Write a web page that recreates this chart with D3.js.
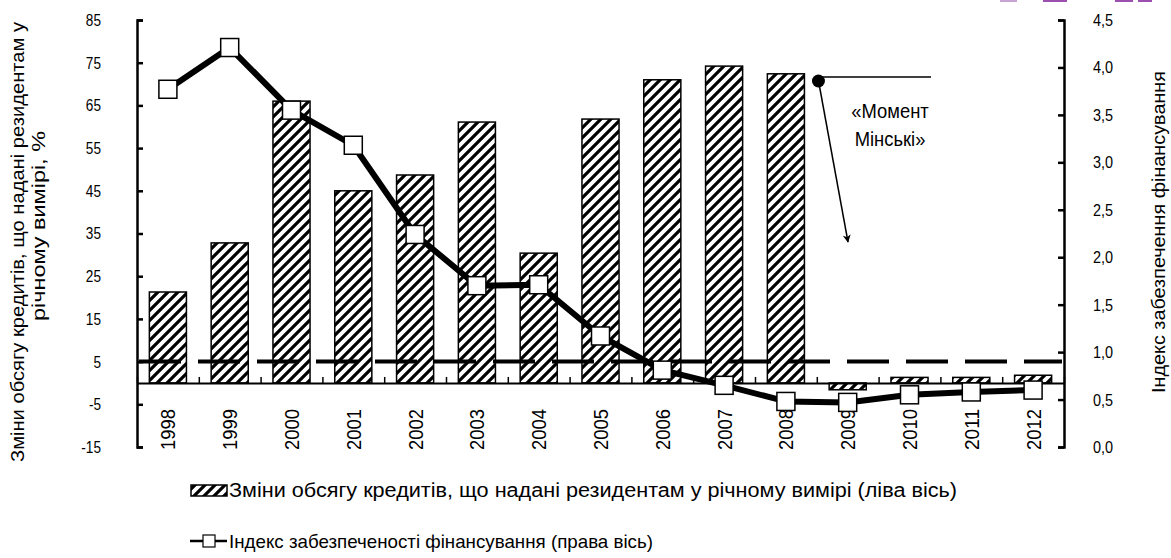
<!DOCTYPE html>
<html>
<head>
<meta charset="utf-8">
<script src="https://cdn.jsdelivr.net/npm/d3@7"></script>
<style>
  body { margin: 0; background: #fff; }
  svg text { font-family: "Liberation Sans", Arial, sans-serif; fill: #000; }
</style>
</head>
<body>
<svg id="chart" width="1171" height="558"></svg>
<script>
// data
const years = ["1998","1999","2000","2001","2002","2003","2004","2005","2006","2007","2008","2009","2010","2011","2012"];
const creditChange = [21.3, 32.8, 66.0, 45.0, 48.7, 61.1, 30.4, 61.8, 71.0, 74.2, 72.4, -1.6, 1.3, 1.3, 1.8];
const fundingIndex = [3.77, 4.21, 3.55, 3.18, 2.24, 1.70, 1.71, 1.17, 0.81, 0.65, 0.48, 0.47, 0.55, 0.58, 0.60];
const leftTicks = [-15, -5, 5, 15, 25, 35, 45, 55, 65, 75, 85];
const rightTicks = [0, 0.5, 1, 1.5, 2, 2.5, 3, 3.5, 4, 4.5];
const thresholdLeft = 5;
const annotLines = ["«Момент", "Мінські»"];
const leftTitle = ["Зміни обсягу кредитів, що надані резидентам у", "річному вимірі, %"];
const rightTitle = "Індекс забезпечення фінансування";
const legendBars = "Зміни обсягу кредитів, що надані резидентам у річному вимірі (ліва вісь)";
const legendLine = "Індекс забезпеченості фінансування  (права вісь)";

const svg = d3.select("#chart");
let mLeft = 137, mRight = 1064, mTop = 20, mBottom = 447;

let x = d3.scaleBand().domain(years).range([mLeft, mRight]).paddingInner(0.4).paddingOuter(0.2);
let xi = d3.scaleLinear().domain([0, years.length]).range([mLeft, mRight]);
let yL = d3.scaleLinear().domain([-15, 85]).range([mBottom, mTop]);
let yR = d3.scaleLinear().domain([0, 4.5]).range([mBottom, mTop]);

// the source font is a narrow one, so squeeze the glyphs
function squeeze(sel, k) {
  sel.each(function() {
    let w = this.getComputedTextLength();
    d3.select(this).attr("textLength", w * k).attr("lengthAdjust", "spacingAndGlyphs");
  });
}

// purple scraps cut off at the top edge
svg.append("rect").attr("x", 1000).attr("y", 0).attr("width", 17).attr("height", 2).attr("fill", "#c9a3d3");
svg.append("rect").attr("x", 1043).attr("y", 0).attr("width", 24).attr("height", 2).attr("fill", "#9c4fae");
svg.append("rect").attr("x", 1115).attr("y", 0).attr("width", 18).attr("height", 2).attr("fill", "#9c4fae");
svg.append("rect").attr("x", 1138).attr("y", 0).attr("width", 14).attr("height", 2).attr("fill", "#9c4fae");

// hatch
let defs = svg.append("defs");
let pat = defs.append("pattern")
  .attr("id", "hatch")
  .attr("patternUnits", "userSpaceOnUse")
  .attr("width", 10).attr("height", 10);
pat.append("rect").attr("width", 10).attr("height", 10).attr("fill", "#fff");
pat.append("path")
  .attr("d", "M-2,12 L12,-2 M-2,2 L2,-2 M8,12 L12,8")
  .attr("stroke", "#000").attr("stroke-width", 3.2);

defs.append("marker")
  .attr("id", "arrow")
  .attr("viewBox", "0 0 10 10")
  .attr("refX", 9).attr("refY", 5)
  .attr("markerWidth", 8).attr("markerHeight", 8)
  .attr("markerUnits", "userSpaceOnUse")
  .attr("orient", "auto")
  .append("path").attr("d", "M0,0 L10,5 L0,10 L3,5 Z").attr("fill", "#000");

// bars
svg.selectAll("rect.bar")
  .data(creditChange)
  .enter()
  .append("rect")
  .attr("class", "bar")
  .attr("x", function(d, i) { return x(years[i]); })
  .attr("width", x.bandwidth())
  .attr("y", function(d) { return yL(Math.max(d, 0)); })
  .attr("height", function(d) { return Math.abs(yL(d) - yL(0)); })
  .attr("fill", "url(#hatch)")
  .attr("stroke", "#000")
  .attr("stroke-width", 1.5);

// x axis on zero line, ticks at category borders pointing up
svg.append("g")
  .attr("transform", "translate(0," + yL(0) + ")")
  .call(d3.axisBottom(xi).tickValues(d3.range(0, years.length + 1)).tickSize(-6).tickSizeOuter(0).tickFormat(""))
  .call(function(g) {
    g.select(".domain").attr("stroke-width", 2);
    g.selectAll(".tick line").attr("stroke-width", 1.5);
  });

// year labels
svg.selectAll("text.year")
  .data(years)
  .enter()
  .append("text")
  .attr("class", "year")
  .attr("transform", function(d) {
    return "translate(" + (x(d) + x.bandwidth() / 2 + 7.5) + ",409) rotate(-90)";
  })
  .attr("text-anchor", "end")
  .attr("font-size", 21)
  .attr("textLength", 41)
  .attr("lengthAdjust", "spacingAndGlyphs")
  .text(function(d) { return d; });

// left axis
svg.append("g")
  .attr("transform", "translate(" + mLeft + ",0)")
  .call(d3.axisLeft(yL).tickValues(leftTicks).tickSizeInner(-6).tickSizeOuter(-6).tickPadding(36)
    .tickFormat(function(d) { return String(d); }))
  .call(function(g) {
    g.select(".domain").attr("stroke-width", 2.5);
    g.selectAll(".tick line").attr("stroke-width", 2.5);
    g.selectAll(".tick text").attr("font-size", 17).attr("font-family", "Liberation Sans, Arial, sans-serif")
      .call(squeeze, 0.8);
  });

// right axis
svg.append("g")
  .attr("transform", "translate(" + mRight + ",0)")
  .call(d3.axisRight(yR).tickValues(rightTicks).tickSizeInner(-6).tickSizeOuter(-6).tickPadding(29)
    .tickFormat(function(d) { return d3.format(".1f")(d).replace(".", ","); }))
  .call(function(g) {
    g.select(".domain").attr("stroke-width", 2.5);
    g.selectAll(".tick line").attr("stroke-width", 2.5);
    g.selectAll(".tick text").attr("font-size", 17).attr("font-family", "Liberation Sans, Arial, sans-serif")
      .call(squeeze, 0.85);
  });

// dashed threshold
svg.append("line")
  .attr("x1", mLeft + 2).attr("x2", mRight - 2)
  .attr("y1", yL(thresholdLeft)).attr("y2", yL(thresholdLeft))
  .attr("stroke", "#000").attr("stroke-width", 4)
  .attr("stroke-dasharray", "42,17");

// index line
let line = d3.line()
  .x(function(d, i) { return x(years[i]) + x.bandwidth() / 2; })
  .y(function(d) { return yR(d); });

svg.append("path")
  .datum(fundingIndex)
  .attr("d", line)
  .attr("fill", "none")
  .attr("stroke", "#000")
  .attr("stroke-width", 6)
  .attr("stroke-linejoin", "round");

svg.selectAll("rect.pt")
  .data(fundingIndex)
  .enter()
  .append("rect")
  .attr("class", "pt")
  .attr("x", function(d, i) { return x(years[i]) + x.bandwidth() / 2 - 9; })
  .attr("y", function(d) { return yR(d) - 9; })
  .attr("width", 18).attr("height", 18)
  .attr("fill", "#fff")
  .attr("stroke", "#000")
  .attr("stroke-width", 1.5);

// annotation
let ax = x("2008") + x.bandwidth() + 14;
svg.append("line")
  .attr("x1", ax).attr("x2", 931).attr("y1", 77).attr("y2", 77)
  .attr("stroke", "#000").attr("stroke-width", 1.5);
svg.append("circle").attr("cx", ax).attr("cy", 81).attr("r", 6.5).attr("fill", "#000");
svg.append("line")
  .attr("x1", ax + 1).attr("y1", 86).attr("x2", 848).attr("y2", 242)
  .attr("stroke", "#000").attr("stroke-width", 1.5)
  .attr("marker-end", "url(#arrow)");
svg.selectAll("text.annot")
  .data(annotLines)
  .enter()
  .append("text")
  .attr("class", "annot")
  .attr("x", 890)
  .attr("y", function(d, i) { return 118 + i * 28; })
  .attr("text-anchor", "middle")
  .attr("font-size", 20)
  .call(function(s) { s.text(function(d) { return d; }); })
  .call(squeeze, 0.92);

// axis titles
let lLen = [440, 190];
svg.selectAll("text.ltitle")
  .data(leftTitle)
  .enter()
  .append("text")
  .attr("class", "ltitle")
  .attr("transform", function(d, i) { return "translate(" + (24 + i * 21) + "," + (i ? 226 : 242) + ") rotate(-90)"; })
  .attr("text-anchor", "middle")
  .attr("font-size", 19)
  .attr("textLength", function(d, i) { return lLen[i]; })
  .attr("lengthAdjust", "spacingAndGlyphs")
  .text(function(d) { return d; });

svg.append("text")
  .attr("transform", "translate(1165,232) rotate(-90)")
  .attr("text-anchor", "middle")
  .attr("font-size", 19)
  .attr("textLength", 322)
  .attr("lengthAdjust", "spacingAndGlyphs")
  .text(rightTitle);

// legend
let lg = svg.append("g");
lg.append("rect")
  .attr("x", 191).attr("y", 485).attr("width", 36).attr("height", 11)
  .attr("fill", "url(#hatch)").attr("stroke", "#000").attr("stroke-width", 1.5);
lg.append("text")
  .attr("x", 229).attr("y", 497)
  .attr("font-size", 20)
  .attr("textLength", 728)
  .attr("lengthAdjust", "spacingAndGlyphs")
  .text(legendBars);
lg.append("line")
  .attr("x1", 190).attr("x2", 227).attr("y1", 541).attr("y2", 541)
  .attr("stroke", "#000").attr("stroke-width", 2.5);
lg.append("rect")
  .attr("x", 203).attr("y", 535).attr("width", 12).attr("height", 12)
  .attr("fill", "#fff").attr("stroke", "#000").attr("stroke-width", 1.2);
lg.append("text")
  .attr("x", 229).attr("y", 548)
  .attr("font-size", 19)
  .attr("textLength", 424)
  .attr("lengthAdjust", "spacingAndGlyphs")
  .text(legendLine);
</script>
</body>
</html>
